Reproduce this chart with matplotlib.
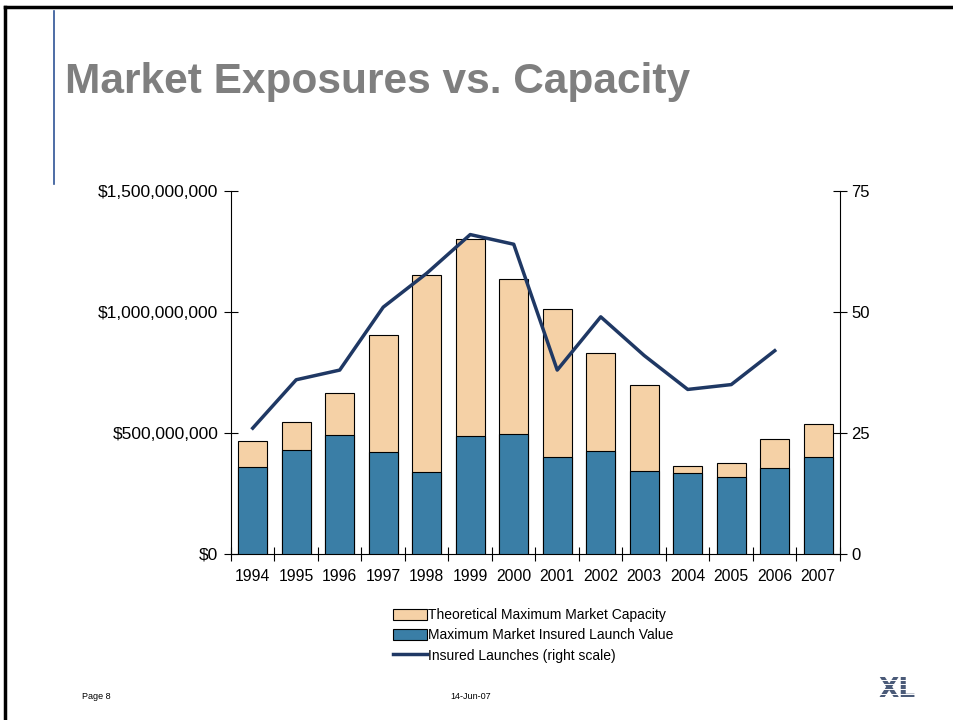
import matplotlib
matplotlib.use('Agg')
import matplotlib.pyplot as plt
import matplotlib.ticker as mticker
from matplotlib.lines import Line2D
from matplotlib.patches import Patch
import numpy as np

plt.rcParams['font.family'] = ['Liberation Sans', 'DejaVu Sans']

# data
years = ['1994', '1995', '1996', '1997', '1998', '1999', '2000',
         '2001', '2002', '2003', '2004', '2005', '2006', '2007']
capacity = [0.466e9, 0.544e9, 0.665e9, 0.903e9, 1.153e9, 1.300e9, 1.136e9,
            1.014e9, 0.832e9, 0.700e9, 0.365e9, 0.376e9, 0.474e9, 0.539e9]
insured_value = [0.359e9, 0.430e9, 0.490e9, 0.423e9, 0.340e9, 0.486e9, 0.497e9,
                 0.400e9, 0.424e9, 0.343e9, 0.335e9, 0.317e9, 0.355e9, 0.400e9]
launches = [26, 36, 38, 51, 58, 66, 64, 38, 49, 41, 34, 35, 42, None]

TAN = '#F5D1A6'
BLUE = '#3A7EA6'
NAVY = '#1F3864'

fig = plt.figure(figsize=(9.54, 7.2), dpi=100)

# slide frame
fig.add_artist(Line2D([0.005, 0.005], [0, 0.99], color='black', lw=2.5, transform=fig.transFigure))
fig.add_artist(Line2D([0.005, 1.0], [0.99, 0.99], color='black', lw=2.5, transform=fig.transFigure))
fig.add_artist(Line2D([0.057, 0.057], [0.745, 0.985], color='#2F5496', lw=1.2, transform=fig.transFigure))

fig.text(0.068, 0.886, 'Market Exposures vs. Capacity', fontsize=30.5, fontweight='bold',
         color='#7F7F7F', va='center', ha='left')

ax = fig.add_axes([0.2421, 0.2306, 0.6384, 0.5041])
x = np.arange(len(years))
ax.bar(x, capacity, width=0.67, color=TAN, edgecolor='black', linewidth=0.8, zorder=2)
ax.bar(x, insured_value, width=0.67, color=BLUE, edgecolor='black', linewidth=0.8, zorder=3)

ax.set_xlim(-0.5, len(years) - 0.5)
ax.set_ylim(0, 1.5e9)
ax.set_yticks([0, 0.5e9, 1.0e9, 1.5e9])
ax.yaxis.set_major_formatter(mticker.FuncFormatter(lambda v, p: '${:,.0f}'.format(v)))
ax.set_xticks(x)
ax.set_xticklabels(years)
ax.set_xticks(np.arange(-0.5, len(years), 1.0), minor=True)
ax.tick_params(axis='x', which='major', length=0, pad=11, labelsize=11.3)
ax.tick_params(axis='x', which='minor', direction='inout', length=10, width=0.8)
ax.tick_params(axis='y', direction='inout', length=10, width=0.8, labelsize=12.5, pad=4)
for s in ['top', 'right']:
    ax.spines[s].set_visible(False)
for s in ['left', 'bottom']:
    ax.spines[s].set_linewidth(0.8)

ax2 = ax.twinx()
lx = [i for i, v in enumerate(launches) if v is not None]
ly = [v for v in launches if v is not None]
ax2.plot(lx, ly, color=NAVY, lw=2.5, zorder=4)
ax2.set_ylim(0, 75)
ax2.set_yticks([0, 25, 50, 75])
ax2.tick_params(axis='y', direction='inout', length=10, width=0.8, labelsize=12, pad=3)
for s in ['top', 'left', 'bottom']:
    ax2.spines[s].set_visible(False)
ax2.spines['right'].set_linewidth(0.8)

handles = [Patch(facecolor=TAN, edgecolor='black', linewidth=0.8),
           Patch(facecolor=BLUE, edgecolor='black', linewidth=0.8),
           Line2D([0], [0], color=NAVY, lw=2.5)]
labels = ['Theoretical Maximum Market Capacity',
          'Maximum Market Insured Launch Value',
          'Insured Launches (right scale)']
fig.legend(handles, labels, loc='upper left', bbox_to_anchor=(0.405, 0.165),
           frameon=False, fontsize=10, handlelength=2.4, handleheight=0.9,
           handletextpad=0.1, labelspacing=0.45, borderpad=0)

fig.text(0.086, 0.032, 'Page 8', fontsize=6.5, va='center')
fig.text(0.472, 0.032, '14-Jun-07', fontsize=6.5, va='center')

# XL logo, striped look
fig.text(0.921, 0.042, 'XL', fontsize=19, fontweight='bold', color='#4A5A78',
         va='center', ha='left', family='DejaVu Sans')
for yy in np.linspace(0.030, 0.056, 5):
    fig.add_artist(Line2D([0.918, 0.965], [yy, yy], color='white', lw=0.7,
                          transform=fig.transFigure, zorder=10))

fig.savefig('out.png', dpi=100)
